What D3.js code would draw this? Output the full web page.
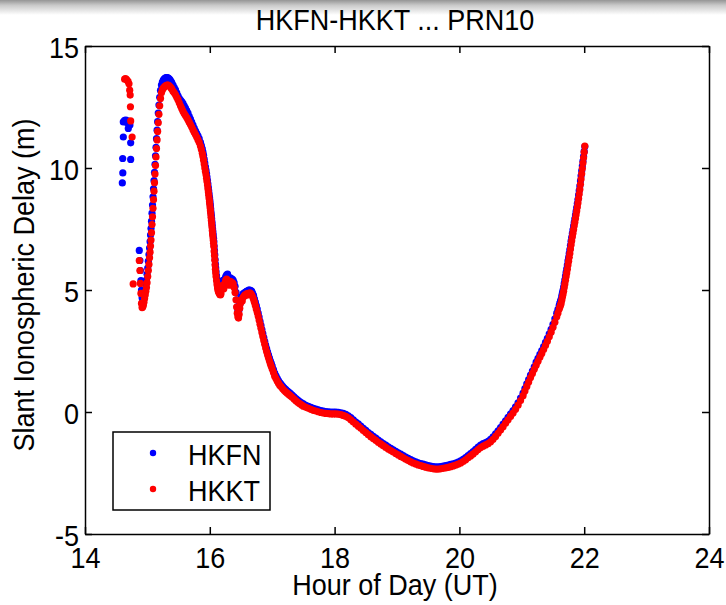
<!DOCTYPE html>
<html>
<head>
<meta charset="utf-8">
<script src="https://cdn.jsdelivr.net/npm/d3@7"></script>
<style>
  html, body { margin: 0; padding: 0; background: #fff; }
  svg { display: block; }
  text { font-family: "Liberation Sans", Arial, Helvetica, sans-serif; fill: #000; }
</style>
</head>
<body>
<svg id="chart" width="726" height="605"></svg>
<script>
// ---------------- DATA ----------------
const titleText = "HKFN-HKKT ... PRN10";
const xLabelText = "Hour of Day (UT)";
const yLabelText = "Slant Ionospheric Delay (m)";
const seriesNames = ["HKFN", "HKKT"];
const xTicks = [14, 16, 18, 20, 22, 24];
const yTicks = [-5, 0, 5, 10, 15];

// shared epochs of the main arc (hours UT)
const hours = [
  14.870, 14.880, 14.888, 14.896, 14.905, 14.915, 14.925, 14.935, 14.945, 14.955,
  14.965, 14.975, 14.985, 14.995, 15.005, 15.015, 15.025, 15.035, 15.043, 15.050,
  15.058, 15.066, 15.074, 15.082, 15.090, 15.098, 15.106, 15.114, 15.122, 15.130,
  15.138, 15.146, 15.155, 15.164, 15.174, 15.185, 15.197, 15.210, 15.225, 15.240,
  15.255, 15.270, 15.285, 15.300, 15.315, 15.330, 15.345, 15.360, 15.375, 15.390,
  15.410, 15.430, 15.450, 15.470, 15.490, 15.510, 15.530, 15.550, 15.570, 15.590,
  15.610, 15.630, 15.650, 15.670, 15.690, 15.710, 15.730, 15.750, 15.770, 15.790,
  15.810, 15.830, 15.850, 15.865, 15.880, 15.890, 15.900, 15.910, 15.920, 15.930,
  15.940, 15.948, 15.955, 15.963, 15.970, 15.977, 15.983, 15.989, 15.995, 16.000,
  16.005, 16.010, 16.015, 16.020, 16.025, 16.030, 16.035, 16.040, 16.045, 16.050,
  16.055, 16.060, 16.065, 16.070, 16.075, 16.080, 16.085, 16.090, 16.095, 16.100,
  16.108, 16.116, 16.124, 16.132, 16.140, 16.150, 16.160, 16.170, 16.180, 16.195,
  16.210, 16.225, 16.240, 16.255, 16.270, 16.285, 16.300, 16.315, 16.330, 16.345,
  16.360, 16.375, 16.390, 16.405, 16.420, 16.430, 16.440, 16.450, 16.460, 16.470,
  16.480, 16.490, 16.505, 16.520, 16.535, 16.550, 16.565, 16.580, 16.595, 16.610,
  16.625, 16.640, 16.655, 16.670, 16.685, 16.700, 16.715, 16.730, 16.745, 16.760,
  16.775, 16.790, 16.805, 16.820, 16.835, 16.850, 16.865, 16.880, 16.895, 16.910,
  16.925, 16.940, 16.955, 16.970, 16.985, 17.000, 17.020, 17.040, 17.060, 17.080,
  17.100, 17.120, 17.140, 17.165, 17.190, 17.215, 17.240, 17.265, 17.290, 17.320,
  17.350, 17.380, 17.410, 17.440, 17.470, 17.500, 17.540, 17.580, 17.620, 17.660,
  17.700, 17.740, 17.780, 17.820, 17.860, 17.900, 17.940, 17.980, 18.020, 18.060,
  18.100, 18.140, 18.180, 18.220, 18.260, 18.300, 18.340, 18.380, 18.420, 18.460,
  18.500, 18.540, 18.580, 18.620, 18.660, 18.700, 18.740, 18.780, 18.820, 18.860,
  18.900, 18.940, 18.980, 19.020, 19.060, 19.100, 19.140, 19.180, 19.220, 19.260,
  19.300, 19.340, 19.380, 19.420, 19.460, 19.500, 19.540, 19.580, 19.620, 19.660,
  19.700, 19.740, 19.780, 19.820, 19.860, 19.900, 19.940, 19.980, 20.020, 20.060,
  20.100, 20.140, 20.180, 20.220, 20.260, 20.300, 20.340, 20.380, 20.420, 20.460,
  20.500, 20.540, 20.580, 20.620, 20.660, 20.700, 20.740, 20.780, 20.820, 20.860,
  20.900, 20.940, 20.980, 21.020, 21.050, 21.080, 21.110, 21.140, 21.170, 21.200,
  21.230, 21.260, 21.290, 21.320, 21.350, 21.380, 21.410, 21.440, 21.470, 21.500,
  21.530, 21.560, 21.580, 21.600, 21.610, 21.620, 21.630, 21.640, 21.650, 21.660,
  21.670, 21.680, 21.690, 21.700, 21.710, 21.720, 21.730, 21.740, 21.750, 21.760,
  21.770, 21.780, 21.790, 21.800, 21.810, 21.820, 21.830, 21.840, 21.850, 21.860,
  21.870, 21.880, 21.890, 21.900, 21.910, 21.920, 21.930, 21.940, 21.950, 21.960,
  21.970, 21.980, 21.990, 22.000, 22.010
];

// HKFN slant delay (m) on the main arc
const hkfn = [
  6.62, 6.21, 5.80, 5.39, 5.00, 4.68, 4.50, 4.52, 4.66, 4.82,
  5.00, 5.20, 5.42, 5.65, 5.90, 6.18, 6.45, 6.72, 6.98, 7.25,
  7.52, 7.82, 8.15, 8.48, 8.82, 9.15, 9.48, 9.82, 10.15, 10.50,
  10.85, 11.20, 11.55, 11.90, 12.25, 12.58, 12.90, 13.18, 13.40, 13.52,
  13.60, 13.65, 13.68, 13.70, 13.70, 13.69, 13.66, 13.62, 13.56, 13.50,
  13.40, 13.30, 13.20, 13.08, 12.96, 12.85, 12.78, 12.72, 12.65, 12.55,
  12.45, 12.35, 12.25, 12.12, 12.00, 11.88, 11.76, 11.64, 11.52, 11.42,
  11.32, 11.20, 11.05, 10.92, 10.78, 10.65, 10.52, 10.36, 10.20, 10.05,
  9.90, 9.76, 9.63, 9.48, 9.34, 9.20, 9.06, 8.93, 8.80, 8.68,
  8.56, 8.44, 8.32, 8.18, 8.05, 7.92, 7.78, 7.64, 7.50, 7.38,
  7.25, 7.12, 6.98, 6.80, 6.62, 6.44, 6.25, 6.06, 5.90, 5.75,
  5.58, 5.42, 5.28, 5.15, 5.08, 5.02, 4.98, 4.98, 5.05, 5.25,
  5.40, 5.30, 5.45, 5.55, 5.62, 5.65, 5.50, 5.45, 5.50, 5.40,
  5.45, 5.40, 5.30, 5.15, 4.90, 4.60, 4.30, 4.15, 4.10, 4.20,
  4.40, 4.55, 4.70, 4.75, 4.85, 4.85, 4.90, 4.92, 4.95, 4.95,
  5.00, 5.00, 4.98, 4.95, 4.88, 4.78, 4.64, 4.50, 4.36, 4.22,
  4.05, 3.89, 3.72, 3.55, 3.38, 3.21, 3.05, 2.90, 2.74, 2.60,
  2.47, 2.34, 2.22, 2.10, 1.99, 1.88, 1.74, 1.59, 1.48, 1.38,
  1.29, 1.21, 1.14, 1.06, 0.99, 0.93, 0.87, 0.82, 0.76, 0.69,
  0.62, 0.55, 0.49, 0.43, 0.38, 0.33, 0.27, 0.23, 0.19, 0.15,
  0.12, 0.09, 0.06, 0.04, 0.02, 0.01, 0.00, 0.00, 0.00, -0.01,
  -0.03, -0.06, -0.10, -0.16, -0.23, -0.32, -0.41, -0.49, -0.58, -0.67,
  -0.75, -0.84, -0.92, -1.00, -1.07, -1.15, -1.22, -1.29, -1.36, -1.43,
  -1.49, -1.55, -1.61, -1.67, -1.73, -1.79, -1.85, -1.90, -1.95, -2.00,
  -2.04, -2.08, -2.11, -2.14, -2.17, -2.20, -2.22, -2.24, -2.25, -2.25,
  -2.24, -2.22, -2.20, -2.18, -2.15, -2.12, -2.09, -2.05, -2.00, -1.94,
  -1.87, -1.79, -1.71, -1.62, -1.53, -1.44, -1.36, -1.30, -1.25, -1.20,
  -1.12, -1.02, -0.90, -0.77, -0.64, -0.50, -0.36, -0.22, -0.08, 0.06,
  0.21, 0.38, 0.57, 0.77, 0.96, 1.15, 1.33, 1.51, 1.68, 1.85,
  2.04, 2.20, 2.36, 2.52, 2.68, 2.85, 3.02, 3.20, 3.39, 3.59,
  3.82, 4.05, 4.21, 4.37, 4.46, 4.54, 4.62, 4.75, 4.87, 4.99,
  5.12, 5.27, 5.42, 5.57, 5.72, 5.87, 6.02, 6.19, 6.34, 6.50,
  6.66, 6.83, 7.00, 7.16, 7.32, 7.47, 7.62, 7.77, 7.92, 8.07,
  8.22, 8.38, 8.54, 8.71, 8.89, 9.07, 9.26, 9.47, 9.68, 9.88,
  10.08, 10.28, 10.48, 10.68, 10.88
];

// HKKT slant delay (m) on the main arc
const hkkt = [
  6.21, 5.80, 5.27, 4.86, 4.45, 4.28, 4.30, 4.38, 4.50, 4.65,
  4.80, 4.95, 5.10, 5.30, 5.55, 5.80, 6.05, 6.32, 6.55, 6.80,
  7.05, 7.35, 7.68, 8.00, 8.35, 8.70, 9.05, 9.40, 9.75, 10.10,
  10.45, 10.80, 11.15, 11.50, 11.85, 12.20, 12.55, 12.85, 13.08, 13.20,
  13.27, 13.32, 13.36, 13.38, 13.40, 13.40, 13.38, 13.34, 13.29, 13.24,
  13.15, 13.08, 13.00, 12.90, 12.80, 12.67, 12.55, 12.44, 12.33, 12.23,
  12.15, 12.07, 11.98, 11.88, 11.78, 11.68, 11.57, 11.47, 11.37, 11.27,
  11.16, 11.05, 10.90, 10.76, 10.60, 10.47, 10.32, 10.16, 10.00, 9.86,
  9.72, 9.58, 9.45, 9.30, 9.15, 9.02, 8.88, 8.75, 8.62, 8.50,
  8.37, 8.25, 8.12, 7.98, 7.85, 7.72, 7.58, 7.44, 7.30, 7.18,
  7.05, 6.92, 6.78, 6.58, 6.40, 6.22, 6.02, 5.85, 5.70, 5.55,
  5.38, 5.22, 5.08, 4.98, 4.92, 4.88, 4.82, 4.80, 4.85, 5.05,
  5.20, 5.05, 5.25, 5.40, 5.45, 5.35, 5.20, 5.30, 5.35, 5.20,
  5.30, 5.25, 5.10, 4.90, 4.60, 4.30, 4.05, 3.90, 3.85, 4.00,
  4.25, 4.45, 4.60, 4.55, 4.70, 4.75, 4.80, 4.78, 4.85, 4.80,
  4.85, 4.88, 4.85, 4.80, 4.73, 4.62, 4.50, 4.36, 4.22, 4.08,
  3.93, 3.77, 3.60, 3.43, 3.26, 3.09, 2.93, 2.78, 2.62, 2.48,
  2.35, 2.22, 2.10, 1.98, 1.87, 1.76, 1.62, 1.47, 1.37, 1.27,
  1.18, 1.10, 1.04, 0.96, 0.89, 0.83, 0.77, 0.72, 0.67, 0.60,
  0.53, 0.46, 0.40, 0.34, 0.29, 0.24, 0.19, 0.15, 0.11, 0.07,
  0.04, 0.01, -0.02, -0.04, -0.06, -0.07, -0.08, -0.08, -0.08, -0.09,
  -0.11, -0.14, -0.18, -0.24, -0.32, -0.41, -0.50, -0.58, -0.67, -0.76,
  -0.84, -0.93, -1.01, -1.09, -1.16, -1.24, -1.31, -1.38, -1.45, -1.52,
  -1.58, -1.64, -1.70, -1.76, -1.82, -1.88, -1.94, -1.99, -2.04, -2.09,
  -2.13, -2.17, -2.20, -2.23, -2.26, -2.29, -2.31, -2.33, -2.34, -2.34,
  -2.33, -2.31, -2.29, -2.27, -2.24, -2.21, -2.18, -2.14, -2.09, -2.03,
  -1.96, -1.88, -1.80, -1.72, -1.63, -1.54, -1.46, -1.40, -1.35, -1.30,
  -1.22, -1.12, -1.00, -0.87, -0.74, -0.60, -0.46, -0.32, -0.18, -0.04,
  0.11, 0.28, 0.47, 0.67, 0.86, 1.05, 1.23, 1.41, 1.58, 1.75,
  1.92, 2.08, 2.24, 2.40, 2.56, 2.73, 2.90, 3.08, 3.27, 3.47,
  3.68, 3.90, 4.06, 4.22, 4.30, 4.38, 4.45, 4.58, 4.70, 4.82,
  4.95, 5.10, 5.25, 5.40, 5.55, 5.70, 5.85, 6.02, 6.18, 6.34,
  6.50, 6.68, 6.85, 7.02, 7.18, 7.33, 7.48, 7.63, 7.78, 7.93,
  8.08, 8.24, 8.40, 8.57, 8.75, 8.93, 9.12, 9.33, 9.55, 9.76,
  9.98, 10.20, 10.42, 10.65, 10.90
];

// scattered epochs at the start of the pass
const hkfnEarlyHours  = [14.598, 14.606, 14.604, 14.614, 14.614, 14.635, 14.657, 14.675, 14.694, 14.694, 14.720, 14.732, 14.732];
const hkfnEarlyValues = [9.39, 9.80, 10.39, 11.27, 11.89, 11.95, 11.96, 11.85, 11.92, 11.62, 11.76, 11.03, 10.35];
const hkktEarlyHours  = [14.635, 14.650, 14.668, 14.690, 14.705, 14.716, 14.724, 14.728, 14.732, 14.755, 14.772];
const hkktEarlyValues = [13.64, 13.66, 13.62, 13.55, 13.45, 13.19, 12.99, 12.51, 11.93, 11.27, 5.25];

const colors = ["#0000ff", "#ff0000"];

// ---------------- CHART ----------------
const W = 726, H = 605;
const M = { left: 85, right: 709, top: 46, bottom: 534 };
const FS = 27, STRETCH = 1.08, R = 3.6;

const svg = d3.select("#chart");

// top window shading
const defs = svg.append("defs");
const grad = defs.append("linearGradient").attr("id", "topShade")
  .attr("x1", 0).attr("y1", 0).attr("x2", 0).attr("y2", 1);
grad.append("stop").attr("offset", "0%").attr("stop-color", "#959595");
grad.append("stop").attr("offset", "35%").attr("stop-color", "#c9c9c9");
grad.append("stop").attr("offset", "100%").attr("stop-color", "#ffffff");
svg.append("rect").attr("x", 0).attr("y", 0).attr("width", W).attr("height", 15)
  .attr("fill", "url(#topShade)");

const x = d3.scaleLinear().domain([14, 24]).range([M.left, M.right]);
const y = d3.scaleLinear().domain([-5, 15]).range([M.bottom, M.top]);
const plainFmt = d => String(d);   // hyphen-minus, as in the reference

function stretchText(sel, tx, ty) {
  sel.attr("x", null).attr("y", null).attr("dy", null)
     .attr("transform", `translate(${tx},${ty}) scale(1,${STRETCH})`)
     .style("font-size", FS + "px")
     .style("font-family", "'Liberation Sans', Arial, sans-serif");
}

// points
const mainFn = hours.map((h, i) => ({ h, v: hkfn[i] }));
const mainKt = hours.map((h, i) => ({ h, v: hkkt[i] }));
const earlyFn = hkfnEarlyHours.map((h, i) => ({ h, v: hkfnEarlyValues[i] }));
const earlyKt = hkktEarlyHours.map((h, i) => ({ h, v: hkktEarlyValues[i] }));

const plot = svg.append("g");
plot.append("g").selectAll("circle").data(earlyFn.concat(mainFn)).join("circle")
  .attr("cx", d => x(d.h)).attr("cy", d => y(d.v)).attr("r", R).attr("fill", colors[0]);
plot.append("g").selectAll("circle").data(earlyKt.concat(mainKt)).join("circle")
  .attr("cx", d => x(d.h)).attr("cy", d => y(d.v)).attr("r", R).attr("fill", colors[1]);

// axes
const axStyle = g => {
  g.select(".domain").attr("stroke", "#000").attr("stroke-width", 1.5);
  g.selectAll(".tick line").attr("stroke", "#000").attr("stroke-width", 1.5);
};

const xAxisB = svg.append("g").attr("transform", `translate(0,${M.bottom})`)
  .call(d3.axisBottom(x).tickValues(xTicks).tickSizeInner(-7).tickSizeOuter(0).tickFormat(plainFmt));
axStyle(xAxisB);
xAxisB.selectAll(".tick text").call(stretchText, 0, 34).attr("text-anchor", "middle");

svg.append("g").attr("transform", `translate(0,${M.top})`)
  .call(d3.axisTop(x).tickValues(xTicks).tickSizeInner(-7).tickSizeOuter(0).tickFormat(""))
  .call(axStyle);

const yAxisL = svg.append("g").attr("transform", `translate(${M.left},0)`)
  .call(d3.axisLeft(y).tickValues(yTicks).tickSizeInner(-7).tickSizeOuter(0).tickFormat(plainFmt));
axStyle(yAxisL);
yAxisL.selectAll(".tick text").call(stretchText, -6, 11).attr("text-anchor", "end");

svg.append("g").attr("transform", `translate(${M.right},0)`)
  .call(d3.axisRight(y).tickValues(yTicks).tickSizeInner(-7).tickSizeOuter(0).tickFormat(""))
  .call(axStyle);

// title and labels
svg.append("text").text(titleText).attr("text-anchor", "middle")
  .call(stretchText, 395, 30);
svg.append("text").text(xLabelText).attr("text-anchor", "middle")
  .call(stretchText, 395, 595);
svg.append("text").text(yLabelText).attr("text-anchor", "middle")
  .attr("transform", `translate(34,285) rotate(-90) scale(1,${STRETCH})`)
  .style("font-size", FS + "px");

// legend
const lg = svg.append("g");
lg.append("rect").attr("x", 113).attr("y", 432).attr("width", 157).attr("height", 78)
  .attr("fill", "#fff").attr("stroke", "#000").attr("stroke-width", 1.5);
seriesNames.forEach((name, i) => {
  const cy = 453 + i * 36;
  lg.append("circle").attr("cx", 153).attr("cy", cy).attr("r", 3.2).attr("fill", colors[i]);
  lg.append("text").text(name).attr("text-anchor", "start").call(stretchText, 188, cy + 12);
});
</script>
</body>
</html>
